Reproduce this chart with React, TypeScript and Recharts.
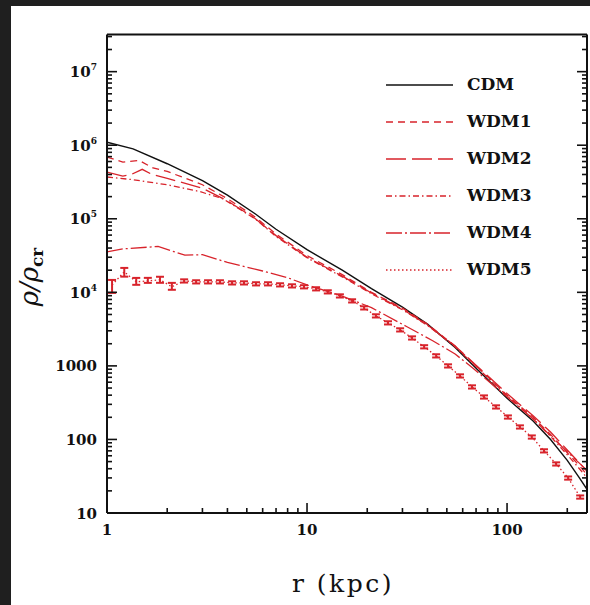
import React from 'react';
import { LineChart, Line, XAxis, YAxis, ErrorBar, Legend } from 'recharts';

// ---------- data ----------
const cdmR = [1, 1.35, 2, 3, 4, 5.5, 7, 10, 15, 21, 30, 40, 55, 70, 100, 135, 165, 200, 230, 251];
const cdmRho = [1.1e6, 8.9e5, 5.6e5, 3.3e5, 2.1e5, 1.17e5, 7.2e4, 3.8e4, 2.0e4, 1.12e4, 6300, 3700, 1780, 930, 363, 178, 100, 52, 30, 21];

const wdm1R = [1, 1.2, 1.45, 1.7, 2, 3, 4, 5.5, 7, 10, 15, 21, 30, 40, 55, 70, 100, 135, 165, 200, 230, 251];
const wdm1Rho = [6.9e5, 5.9e5, 6.2e5, 4.9e5, 4.4e5, 2.9e5, 1.88e5, 1.06e5, 6.2e4, 3.16e4, 1.74e4, 1.0e4, 6100, 3700, 1860, 1000, 400, 200, 117, 66, 44, 33];

const wdm2R = [1, 1.2, 1.32, 1.5, 1.68, 2, 3, 4, 5.5, 7, 10, 15, 21, 30, 40, 55, 70, 100, 135, 165, 200, 230, 251];
const wdm2Rho = [4.3e5, 3.8e5, 4.0e5, 4.7e5, 4.0e5, 3.55e5, 2.6e5, 1.75e5, 1.01e5, 5.9e4, 3.0e4, 1.66e4, 9800, 5900, 3600, 1860, 1020, 420, 210, 126, 72, 48, 37];

const wdm3R = [1, 1.35, 2, 2.9, 3.8, 5.5, 7, 10, 15, 21, 30, 40, 55, 70, 100, 135, 165, 200, 230, 251];
const wdm3Rho = [3.7e5, 3.4e5, 2.9e5, 2.35e5, 1.87e5, 1.0e5, 5.75e4, 2.95e4, 1.62e4, 9550, 5800, 3550, 1820, 980, 390, 190, 110, 62, 40, 30];

const wdm4R = [1, 1.2, 1.8, 2.45, 3, 4, 6, 8, 10, 15, 21, 31.6, 42.5, 55, 67.6, 85, 100, 135, 165, 200, 251];
const wdm4Rho = [3.55e4, 3.9e4, 4.2e4, 3.2e4, 3.25e4, 2.55e4, 1.95e4, 1.58e4, 1.26e4, 8900, 6200, 3400, 2200, 1450, 930, 550, 380, 190, 112, 68, 38];

const wdm5R = [1.06, 1.22, 1.4, 1.6, 1.84, 2.11, 2.43, 2.79, 3.2, 3.67, 4.22, 4.84, 5.56, 6.38, 7.33, 8.41, 9.66, 11.1, 12.7, 14.6, 16.8, 19.3, 22.1, 25.4, 29.2, 33.5, 38.5, 44.2, 50.7, 58.2, 66.8, 76.7, 88.1, 101, 116, 133, 153, 176, 202, 232];
const wdm5Rho = [12600, 19000, 13900, 14300, 14800, 11900, 14300, 13900, 13900, 13900, 13450, 13450, 13060, 13060, 12650, 12250, 11900, 11170, 10160, 8950, 7660, 6150, 4790, 3850, 3090, 2400, 1820, 1370, 1000, 731, 518, 378, 277, 202, 148, 108, 70, 46.5, 29.9, 16.5];
const wdm5ErrLo = [0.22, 0.14, 0.09, 0.06, 0.09, 0.09, 0.05, 0.05, 0.05, 0.05, 0.05, 0.05, 0.05, 0.05, 0.05, 0.05, 0.05, 0.05, 0.05, 0.05, 0.05, 0.05, 0.05, 0.05, 0.05, 0.05, 0.05, 0.05, 0.05, 0.05, 0.05, 0.05, 0.05, 0.05, 0.05, 0.05, 0.05, 0.05, 0.05, 0.05];
const wdm5ErrHi = [0.17, 0.13, 0.13, 0.1, 0.1, 0.13, 0.05, 0.05, 0.05, 0.05, 0.05, 0.05, 0.05, 0.05, 0.05, 0.05, 0.05, 0.05, 0.05, 0.05, 0.05, 0.05, 0.05, 0.05, 0.05, 0.05, 0.05, 0.05, 0.05, 0.05, 0.05, 0.05, 0.05, 0.05, 0.05, 0.05, 0.05, 0.05, 0.05, 0.05];

const seriesNames = ['CDM', 'WDM1', 'WDM2', 'WDM3', 'WDM4', 'WDM5'];

const xTicks = [1, 2, 3, 4, 5, 6, 7, 8, 9, 10, 20, 30, 40, 50, 60, 70, 80, 90, 100, 200];
const yTicks = [
  10, 20, 30, 40, 50, 60, 70, 80, 90,
  100, 200, 300, 400, 500, 600, 700, 800, 900,
  1000, 2000, 3000, 4000, 5000, 6000, 7000, 8000, 9000,
  1e4, 2e4, 3e4, 4e4, 5e4, 6e4, 7e4, 8e4, 9e4,
  1e5, 2e5, 3e5, 4e5, 5e5, 6e5, 7e5, 8e5, 9e5,
  1e6, 2e6, 3e6, 4e6, 5e6, 6e6, 7e6, 8e6, 9e6,
  1e7, 2e7, 3e7,
];
const xDomain = [1, 251];
const yDomain = [10, 3.2e7];

// ---------- styling ----------
const RED = '#d8232b';
const INK = '#111111';
const SERIF = "'DejaVu Serif', serif";

const mk = (r: number[], rho: number[]) => r.map((v, i) => ({ r: v, rho: rho[i] }));
const wdm5Data = wdm5R.map((v, i) => ({
  r: v,
  rho: wdm5Rho[i],
  err: [wdm5Rho[i] * wdm5ErrLo[i], wdm5Rho[i] * wdm5ErrHi[i]],
}));

const series = [
  { name: seriesNames[0], data: mk(cdmR, cdmRho), color: INK, dash: undefined as string | undefined },
  { name: seriesNames[1], data: mk(wdm1R, wdm1Rho), color: RED, dash: '7 5' },
  { name: seriesNames[2], data: mk(wdm2R, wdm2Rho), color: RED, dash: '20 6' },
  { name: seriesNames[3], data: mk(wdm3R, wdm3Rho), color: RED, dash: '6 3 1.5 3' },
  { name: seriesNames[4], data: mk(wdm4R, wdm4Rho), color: RED, dash: '16 3 2 3' },
  { name: seriesNames[5], data: wdm5Data, color: RED, dash: '1.5 2.5' },
];

const isMajor = (v: number) => Math.abs(Math.log10(v) - Math.round(Math.log10(v))) < 1e-6;

const XTickBottom = (props: any) => {
  const { x, y, payload } = props;
  const v = payload.value;
  const major = isMajor(v);
  return (
    <g>
      <line x1={x} x2={x} y1={y} y2={y - (major ? 10 : 5)} stroke={INK} strokeWidth={1.6} />
      {major && (
        <text x={x} y={y + 22} textAnchor="middle" fontFamily={SERIF} fontWeight="bold" fontSize={15} fill={INK}>
          {v}
        </text>
      )}
    </g>
  );
};

const XTickTop = (props: any) => {
  const { x, y, payload } = props;
  const major = isMajor(payload.value);
  return <line x1={x} x2={x} y1={y} y2={y + (major ? 10 : 5)} stroke={INK} strokeWidth={1.6} />;
};

const YTickLeft = (props: any) => {
  const { x, y, payload } = props;
  const v = payload.value;
  const major = isMajor(v);
  const exp = Math.round(Math.log10(v));
  return (
    <g>
      <line x1={x} x2={x + (major ? 10 : 5)} y1={y} y2={y} stroke={INK} strokeWidth={1.6} />
      {major && (
        <text x={x - 10} y={y + 5.5} textAnchor="end" fontFamily={SERIF} fontWeight="bold" fontSize={15} fill={INK}>
          {exp <= 3 ? String(v) : '10'}
          {exp > 3 && (
            <tspan fontSize={9} dy={-7}>
              {exp}
            </tspan>
          )}
        </text>
      )}
    </g>
  );
};

const YTickRight = (props: any) => {
  const { x, y, payload } = props;
  const major = isMajor(payload.value);
  return <line x1={x} x2={x - (major ? 10 : 5)} y1={y} y2={y} stroke={INK} strokeWidth={1.6} />;
};

const renderLegend = () => (
  <div style={{ display: 'flex', flexDirection: 'column' }}>
    {series.map((s) => (
      <div key={s.name} style={{ display: 'flex', alignItems: 'center', height: 37 }}>
        <svg width={67} height={12} style={{ display: 'block' }}>
          <line x1={0} x2={67} y1={6} y2={6} stroke={s.color} strokeWidth={1.5} strokeDasharray={s.dash} />
        </svg>
        <span
          style={{
            marginLeft: 14,
            fontFamily: SERIF,
            fontWeight: 'bold',
            fontSize: 17,
            color: INK,
            lineHeight: '17px',
          }}
        >
          {s.name}
        </span>
      </div>
    ))}
  </div>
);

const XLabel = () => (
  <text x={343} y={592} textAnchor="middle" fontFamily={SERIF} fontSize={25} letterSpacing={2.5} fill={INK}>
    r (kpc)
  </text>
);

const YLabel = () => (
  <text
    x={0}
    y={0}
    transform="translate(38,277) rotate(-90)"
    textAnchor="middle"
    fontFamily={SERIF}
    fontStyle="italic"
    fontSize={26}
    fill={INK}
  >
    ρ/ρ
    <tspan fontSize={17} fontWeight="bold" fontStyle="normal" dy={5}>
      cr
    </tspan>
  </text>
);

export default function App() {
  return (
    <div style={{ position: 'fixed', left: 0, top: 0, width: 590, height: 605, background: '#1f1f1f' }}>
      <div style={{ position: 'absolute', left: 11, top: 6, right: 0, bottom: 0, background: '#ffffff' }} />
      <div style={{ position: 'absolute', left: 0, top: 0 }}>
        <LineChart width={590} height={605} margin={{ top: 33.5, right: 2, bottom: 52, left: 47 }}>
          <XAxis
            xAxisId="b"
            dataKey="r"
            type="number"
            scale="log"
            domain={xDomain}
            allowDataOverflow
            ticks={xTicks}
            interval={0}
            tickSize={0}
            tickMargin={0}
            tickLine={false}
            tick={<XTickBottom />}
            height={40}
            axisLine={{ stroke: INK, strokeWidth: 2 }}
            label={<XLabel />}
          />
          <XAxis
            xAxisId="t"
            orientation="top"
            type="number"
            scale="log"
            domain={xDomain}
            allowDataOverflow
            ticks={xTicks}
            interval={0}
            tickSize={0}
            tickMargin={0}
            tickLine={false}
            tick={<XTickTop />}
            height={1}
            axisLine={{ stroke: INK, strokeWidth: 2 }}
          />
          <YAxis
            yAxisId="l"
            type="number"
            scale="log"
            domain={yDomain}
            allowDataOverflow
            ticks={yTicks}
            interval={0}
            tickSize={0}
            tickMargin={0}
            tickLine={false}
            tick={<YTickLeft />}
            width={60}
            axisLine={{ stroke: INK, strokeWidth: 2 }}
            label={<YLabel />}
          />
          <YAxis
            yAxisId="r"
            orientation="right"
            type="number"
            scale="log"
            domain={yDomain}
            allowDataOverflow
            ticks={yTicks}
            interval={0}
            tickSize={0}
            tickMargin={0}
            tickLine={false}
            tick={<YTickRight />}
            width={1}
            axisLine={{ stroke: INK, strokeWidth: 2 }}
          />
          {series.map((s) => (
            <Line
              key={s.name}
              name={s.name}
              xAxisId="b"
              yAxisId="l"
              data={s.data}
              dataKey="rho"
              type="linear"
              stroke={s.color}
              strokeWidth={s.name === 'CDM' ? 1.4 : 1.3}
              strokeDasharray={s.dash}
              dot={false}
              activeDot={false}
              isAnimationActive={false}
            >
              {s.name === 'WDM5' && (
                <ErrorBar dataKey="err" width={4} stroke={RED} strokeWidth={2} direction="y" isAnimationActive={false} />
              )}
            </Line>
          ))}
          <Legend
            layout="vertical"
            align="center"
            verticalAlign="middle"
            content={renderLegend}
            wrapperStyle={{ position: 'absolute', left: 386, top: 66, width: 180 }}
          />
        </LineChart>
      </div>
    </div>
  );
}
